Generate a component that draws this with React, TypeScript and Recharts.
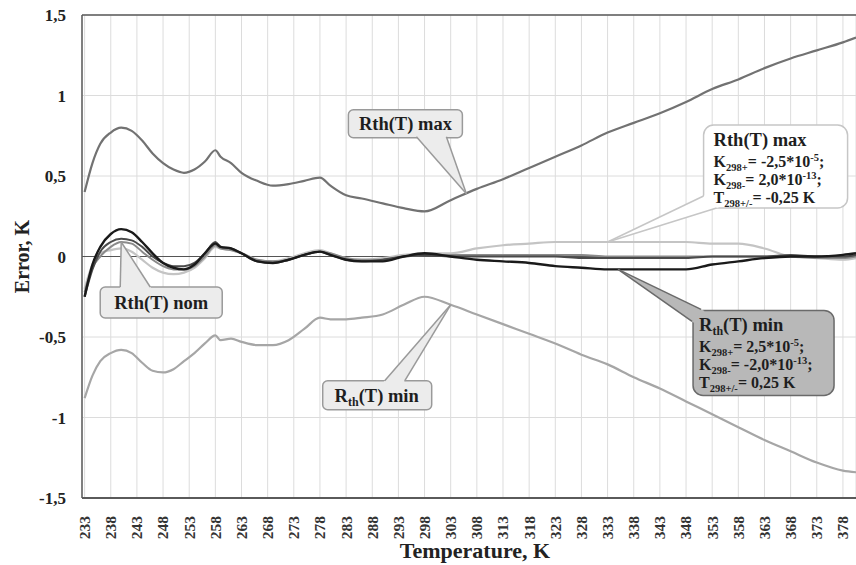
import React from 'react';
import { LineChart, Line, XAxis, YAxis, CartesianGrid, ReferenceLine, ReferenceDot } from 'recharts';

const FONT = '"Liberation Serif", "Times New Roman", serif';

// temperature, K
const temps = [
  233, 234.5, 236, 238, 240, 242, 244, 246, 248, 250, 252, 254, 256, 258, 259, 261, 263, 266, 269, 272, 275,
  278, 280, 283, 286, 290, 294, 298, 303, 308, 313, 318, 323, 328, 333, 338, 343, 348, 353, 358, 363, 368,
  373, 378, 380.5,
];

// error, K
const rthMax = [
  0.4, 0.58, 0.7, 0.77, 0.8, 0.78, 0.72, 0.64, 0.58, 0.54, 0.52, 0.54, 0.59, 0.66, 0.62, 0.58, 0.52, 0.47, 0.44,
  0.45, 0.47, 0.49, 0.44, 0.38, 0.36, 0.33, 0.3, 0.28, 0.35, 0.42, 0.48, 0.55, 0.62, 0.69, 0.77, 0.83, 0.89, 0.96,
  1.04, 1.1, 1.17, 1.23, 1.28, 1.33, 1.36,
];
const rthMin = [
  -0.88, -0.74, -0.65, -0.6, -0.58, -0.6, -0.66, -0.71, -0.72, -0.7, -0.65, -0.6, -0.54, -0.49, -0.52, -0.51,
  -0.53, -0.55, -0.55, -0.52, -0.45, -0.38, -0.39, -0.39, -0.38, -0.36, -0.3, -0.25, -0.3, -0.36, -0.42, -0.48,
  -0.54, -0.61, -0.67, -0.75, -0.82, -0.9, -0.98, -1.06, -1.14, -1.21, -1.28, -1.33, -1.34,
];
// R_th(T) min coefficients (black)
const kMin = [
  -0.25, -0.05, 0.06, 0.14, 0.17, 0.15, 0.09, 0.02, -0.04, -0.07, -0.08, -0.05, 0.02, 0.08, 0.06, 0.05, 0.02,
  -0.03, -0.04, -0.02, 0.01, 0.03, 0.01, -0.02, -0.03, -0.03, 0.0, 0.02, 0.0, -0.02, -0.03, -0.04, -0.06, -0.07,
  -0.08, -0.08, -0.08, -0.08, -0.05, -0.03, -0.01, 0.0, 0.0, 0.01, 0.02,
];
// R_th(T) nom
const nomA = [
  -0.25, -0.08, 0.03, 0.09, 0.11, 0.1, 0.06, 0.0, -0.04, -0.06, -0.06, -0.04, 0.02, 0.09, 0.06, 0.05, 0.02,
  -0.03, -0.04, -0.02, 0.01, 0.03, 0.01, -0.02, -0.03, -0.02, 0.0, 0.01, 0.0, 0.0, 0.0, 0.0, 0.0, -0.01, -0.01,
  -0.01, -0.01, -0.01, 0.0, 0.0, 0.0, 0.01, 0.0, 0.0, 0.01,
];
const nomB = [
  -0.22, -0.07, 0.0, 0.06, 0.09, 0.08, 0.03, -0.02, -0.06, -0.08, -0.08, -0.06, 0.0, 0.07, 0.05, 0.04, 0.02,
  -0.02, -0.03, -0.02, 0.01, 0.03, 0.02, -0.01, -0.02, -0.02, 0.0, 0.01, 0.01, 0.01, 0.01, 0.01, 0.01, 0.01, 0.0,
  0.0, 0.0, 0.0, 0.0, 0.0, 0.0, 0.0, -0.01, -0.01, 0.0,
];
// R_th(T) max coefficients (light)
const kMax = [
  -0.2, -0.05, 0.02, 0.04, 0.05, 0.03, -0.02, -0.07, -0.1, -0.11, -0.1, -0.07, -0.01, 0.06, 0.05, 0.04, 0.02,
  -0.02, -0.03, -0.01, 0.02, 0.04, 0.02, -0.01, -0.02, -0.01, 0.01, 0.02, 0.02, 0.05, 0.07, 0.08, 0.09, 0.09,
  0.09, 0.09, 0.09, 0.09, 0.08, 0.08, 0.05, 0.0, -0.01, -0.02, -0.01,
];

const xTicks = [
  233, 238, 243, 248, 253, 258, 263, 268, 273, 278, 283, 288, 293, 298, 303, 308, 313, 318, 323, 328, 333, 338,
  343, 348, 353, 358, 363, 368, 373, 378,
];
const yTicks = [-1.5, -1, -0.5, 0, 0.5, 1, 1.5];

const data = temps.map((t, i) => ({
  t,
  max: rthMax[i],
  min: rthMin[i],
  kMin: kMin[i],
  nomA: nomA[i],
  nomB: nomB[i],
  kMax: kMax[i],
}));

const idx = (t: number) => temps.indexOf(t);

const Callout = (props: any) => {
  const { cx = 0, cy = 0, box, base, fill, stroke, radius, children } = props;
  const [dx, dy, w, h] = box;
  const [b1x, b1y, b2x, b2y] = base;
  const ext = (bx: number, by: number) => {
    const len = Math.hypot(bx, by);
    return [bx + (bx / len) * 4, by + (by / len) * 4];
  };
  const [e1x, e1y] = ext(b1x, b1y);
  const [e2x, e2y] = ext(b2x, b2y);
  return (
    <g transform={`translate(${cx},${cy})`}>
      <rect x={dx} y={dy} width={w} height={h} rx={radius} fill={fill} stroke={stroke} strokeWidth={1.5} />
      <polygon points={`0,0 ${e1x},${e1y} ${e2x},${e2y}`} fill={fill} stroke="none" />
      <line x1={0} y1={0} x2={b1x} y2={b1y} stroke={stroke} strokeWidth={1.5} />
      <line x1={0} y1={0} x2={b2x} y2={b2y} stroke={stroke} strokeWidth={1.5} />
      <g fontFamily={FONT} fontWeight="bold" fill="#1e1e1e">
        {children}
      </g>
    </g>
  );
};

const Coef = ({ x, y, sub, val, exp }: { x: number; y: number; sub: string; val: string; exp?: string }) => (
  <text x={x} y={y} fontSize={16}>
    {sub.startsWith('T') ? 'T' : 'K'}
    <tspan fontSize={10.5} dy={4}>
      {sub.slice(1)}
    </tspan>
    <tspan dy={-4}>{val}</tspan>
    {exp && (
      <>
        <tspan fontSize={10.5} dy={-6}>
          {exp}
        </tspan>
        <tspan dy={6}>;</tspan>
      </>
    )}
  </text>
);

const XTick = ({ x, y, payload }: any) => (
  <g transform={`translate(${x},${y + 10}) rotate(-90)`}>
    <text x={0} y={0} dy="0.35em" textAnchor="end" fontFamily={FONT} fontWeight="bold" fontSize={15.5} fill="#333">
      {payload.value}
    </text>
  </g>
);

const fmtY = (v: number) => String(v).replace('.', ',');

export default function App() {
  const iMaxTip = idx(308);
  const iKMaxTip = idx(333);
  const iKMinTip = idx(333);
  const iNomTip = idx(240);
  const iMinTip = idx(303);

  return (
    <div style={{ position: 'absolute', left: 0, top: 0, width: 856, height: 565, background: '#fff' }}>
      <LineChart width={856} height={565} data={data} margin={{ top: 15, right: 0, bottom: 0, left: 0 }}>
        <CartesianGrid stroke="#dcdcdc" strokeWidth={1} />
        <XAxis
          dataKey="t"
          type="number"
          domain={[232.5, 380.5]}
          ticks={xTicks}
          interval={0}
          height={67}
          tick={<XTick />}
          tickLine={false}
          axisLine={{ stroke: '#5a5a5a', strokeWidth: 2 }}
          label={{
            value: 'Temperature, K',
            content: ({ viewBox }: any) => (
              <text
                x={viewBox.x + viewBox.width / 2 + 6}
                y={viewBox.y + 60}
                textAnchor="middle"
                fontFamily={FONT}
                fontWeight="bold"
                fontSize={22}
                fill="#222"
              >
                Temperature, K
              </text>
            ),
          }}
        />
        <YAxis
          type="number"
          domain={[-1.5, 1.5]}
          ticks={yTicks}
          width={82}
          tickFormatter={fmtY}
          tickLine={false}
          tickSize={0}
          tickMargin={16}
          tick={{ fontFamily: FONT, fontWeight: 'bold', fontSize: 17, fill: '#222' }}
          axisLine={{ stroke: '#5a5a5a', strokeWidth: 1.5 }}
          label={{
            value: 'Error, K',
            content: ({ viewBox }: any) => {
              const cx = viewBox.x + 22;
              const cy = viewBox.y + viewBox.height / 2;
              return (
                <text
                  x={cx}
                  y={cy}
                  transform={`rotate(-90 ${cx} ${cy})`}
                  textAnchor="middle"
                  dominantBaseline="central"
                  fontFamily={FONT}
                  fontWeight="bold"
                  fontSize={20}
                  fill="#222"
                >
                  Error, K
                </text>
              );
            },
          }}
        />
        <ReferenceLine y={0} stroke="#555" strokeWidth={1.2} />
        <ReferenceLine y={1.5} stroke="#5a5a5a" strokeWidth={1.5} />

        <Line type="monotone" dataKey="max" stroke="#727272" strokeWidth={2.2} dot={false} isAnimationActive={false} />
        <Line type="monotone" dataKey="min" stroke="#a6a6a6" strokeWidth={2.2} dot={false} isAnimationActive={false} />
        <Line type="monotone" dataKey="kMax" stroke="#c4c4c4" strokeWidth={2.2} dot={false} isAnimationActive={false} />
        <Line type="monotone" dataKey="nomB" stroke="#8a8a8a" strokeWidth={2} dot={false} isAnimationActive={false} />
        <Line type="monotone" dataKey="nomA" stroke="#4a4a4a" strokeWidth={2} dot={false} isAnimationActive={false} />
        <Line type="monotone" dataKey="kMin" stroke="#1a1a1a" strokeWidth={2.4} dot={false} isAnimationActive={false} />

        {/* callouts */}
        <ReferenceDot
          x={temps[iMaxTip] - 2}
          y={0.39}
          r={0}
          ifOverflow="visible"
          shape={(p: any) => (
            <Callout {...p} box={[-118, -84, 114, 28]} base={[-50, -57, -20, -57]} fill="#ececec" stroke="#9a9a9a" radius={5}>
              <text x={-61} y={-64} textAnchor="middle" fontSize={18.5}>
                Rth(T) max
              </text>
            </Callout>
          )}
        />
        <ReferenceDot
          x={temps[iKMaxTip]}
          y={kMax[iKMaxTip]}
          r={0}
          ifOverflow="visible"
          shape={(p: any) => (
            <Callout {...p} box={[96, -117, 144, 83]} base={[96, -46, 109, -34]} fill="#ffffff" stroke="#c6c6c6" radius={10}>
              <text x={106} y={-96} fontSize={18.5}>
                Rth(T) max
              </text>
              <Coef x={106} y={-75} sub="K298+" val="= -2,5*10" exp="-5" />
              <Coef x={106} y={-57} sub="K298-" val="= 2,0*10" exp="-13" />
              <Coef x={106} y={-39} sub="T298+/-" val="= -0,25  K" />
            </Callout>
          )}
        />
        <ReferenceDot
          x={temps[iKMinTip] + 2}
          y={-0.08}
          r={0}
          ifOverflow="visible"
          shape={(p: any) => (
            <Callout {...p} box={[75, 41, 141, 85]} base={[74, 52, 83, 40]} fill="#b8b8b8" stroke="#6a6a6a" radius={10}>
              <text x={81} y={62} fontSize={18.5}>
                R<tspan fontSize={12} dy={4}>th</tspan>
                <tspan dy={-4}>(T) min</tspan>
              </text>
              <Coef x={81} y={83} sub="K298+" val="= 2,5*10" exp="-5" />
              <Coef x={81} y={101} sub="K298-" val="= -2,0*10" exp="-13" />
              <Coef x={81} y={119} sub="T298+/-" val="= 0,25 K" />
            </Callout>
          )}
        />
        <ReferenceDot
          x={temps[iNomTip]}
          y={nomB[iNomTip]}
          r={0}
          ifOverflow="visible"
          shape={(p: any) => (
            <Callout {...p} box={[-21, 45, 122, 31]} base={[-1, 45, 29, 45]} fill="#ececec" stroke="#9a9a9a" radius={5}>
              <text x={40} y={67} textAnchor="middle" fontSize={18.5}>
                Rth(T) nom
              </text>
            </Callout>
          )}
        />
        <ReferenceDot
          x={temps[iMinTip]}
          y={rthMin[iMinTip]}
          r={0}
          ifOverflow="visible"
          shape={(p: any) => (
            <Callout {...p} box={[-128, 76, 109, 29]} base={[-66, 76, -46, 76]} fill="#ececec" stroke="#9a9a9a" radius={5}>
              <text x={-74} y={97} textAnchor="middle" fontSize={18.5}>
                R<tspan fontSize={12} dy={4}>th</tspan>
                <tspan dy={-4}>(T) min</tspan>
              </text>
            </Callout>
          )}
        />
      </LineChart>
    </div>
  );
}
